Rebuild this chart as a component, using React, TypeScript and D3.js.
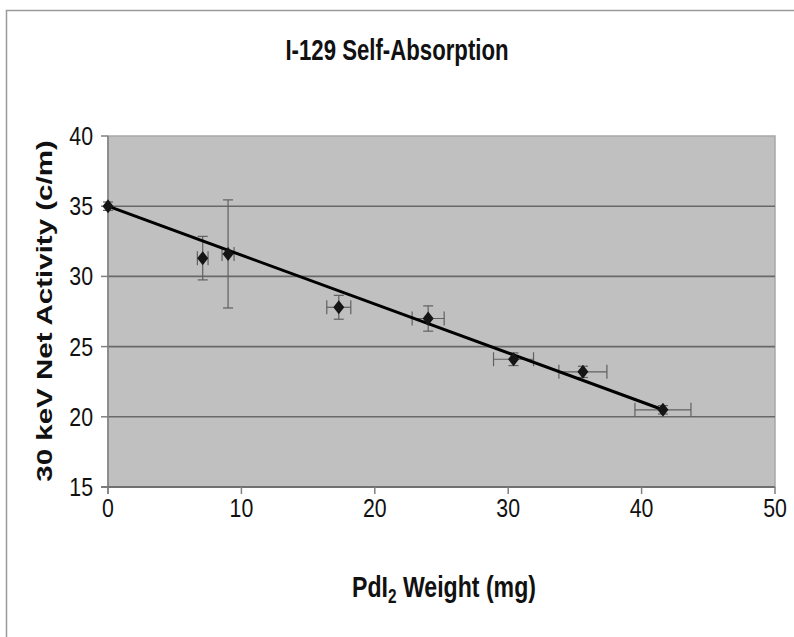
import React from "react";
import * as d3 from "d3";

const title = "I-129 Self-Absorption";
const weights = [0, 7.1, 9.0, 17.3, 24.0, 30.4, 35.6, 41.6];
const activity = [35.0, 31.3, 31.6, 27.8, 27.0, 24.1, 23.2, 20.5];
const activityErr = [0.3, 1.55, 3.85, 0.85, 0.9, 0.45, 0.4, 0.3];
const weightErr = [0, 0.4, 0.45, 0.9, 1.2, 1.5, 1.8, 2.1];
const trendX = [0, 41.6];
const trendY = [35.0, 20.5];
const xTicks = [0, 10, 20, 30, 40, 50];
const yTicks = [15, 20, 25, 30, 35, 40];

const W = 794;
const H = 637;
const left = 108;
const right = 775;
const top = 136;
const bottom = 487;

export default function App() {
  const x = d3.scaleLinear().domain([0, 50]).range([left, right]);
  const y = d3.scaleLinear().domain([15, 40]).range([bottom, top]);
  const font = "'Liberation Sans', Arial, sans-serif";
  const trend = d3.line<number>().x((d) => x(trendX[d])).y((d) => y(trendY[d]))([0, 1]) || "";
  const diamond = (cx: number, cy: number) =>
    `M${cx},${cy - 7}L${cx + 5.5},${cy}L${cx},${cy + 7}L${cx - 5.5},${cy}Z`;
  const errColor = "#606060";

  return (
    <svg width={W} height={H} style={{ position: "absolute", left: 0, top: 0, background: "#fff" }}>
      <rect x={6.5} y={10.5} width={900} height={800} fill="#fff" stroke="#9a9a9a" strokeWidth={1.5} />
      <rect x={left} y={top} width={right - left} height={bottom - top} fill="#c0c0c0" stroke="#a8a8a8" strokeWidth={1.5} />
      {yTicks.filter((t) => t > 15 && t < 40).map((t) => (
        <line key={"g" + t} x1={left} x2={right} y1={y(t)} y2={y(t)} stroke="#686868" strokeWidth={1.6} />
      ))}
      {/* axes */}
      <line x1={left} x2={left} y1={top} y2={bottom + 7} stroke="#808080" strokeWidth={1.5} />
      <line x1={left - 7} x2={right} y1={bottom} y2={bottom} stroke="#707070" strokeWidth={1.8} />
      {yTicks.map((t) => (
        <g key={"yt" + t}>
          <line x1={left - 7} x2={left} y1={y(t)} y2={y(t)} stroke="#808080" strokeWidth={1.5} />
          <text
            transform={`translate(${left - 15},${y(t) + 9}) scale(0.82,1)`}
            textAnchor="end"
            fontFamily={font}
            fontSize={26}
            fill="#111"
          >
            {t}
          </text>
        </g>
      ))}
      {xTicks.map((t) => (
        <g key={"xt" + t}>
          <line x1={x(t)} x2={x(t)} y1={bottom} y2={bottom + 7} stroke="#808080" strokeWidth={1.5} />
          <text
            transform={`translate(${x(t)},${bottom + 30}) scale(0.82,1)`}
            textAnchor="middle"
            fontFamily={font}
            fontSize={26}
            fill="#111"
          >
            {t}
          </text>
        </g>
      ))}
      {/* error bars */}
      {weights.map((w, i) => {
        const cx = x(w);
        const cy = y(activity[i]);
        const yt = y(activity[i] + activityErr[i]);
        const yb = y(activity[i] - activityErr[i]);
        const xl = x(w - weightErr[i]);
        const xr = x(w + weightErr[i]);
        return (
          <g key={"e" + i} stroke={errColor} strokeWidth={1.2} fill="none">
            <line x1={cx} x2={cx} y1={yt} y2={yb} />
            <line x1={cx - 5} x2={cx + 5} y1={yt} y2={yt} />
            <line x1={cx - 5} x2={cx + 5} y1={yb} y2={yb} />
            {weightErr[i] > 0 && (
              <>
                <line x1={xl} x2={xr} y1={cy} y2={cy} />
                <line x1={xl} x2={xl} y1={cy - 7} y2={cy + 7} />
                <line x1={xr} x2={xr} y1={cy - 7} y2={cy + 7} />
              </>
            )}
          </g>
        );
      })}
      <path d={trend} stroke="#000" strokeWidth={3} fill="none" />
      {weights.map((w, i) => (
        <path key={"p" + i} d={diamond(x(w), y(activity[i]))} fill="#151515" />
      ))}
      {/* titles */}
      <text
        transform={`translate(397,60) scale(0.74,1)`}
        textAnchor="middle"
        fontFamily={font}
        fontWeight="bold"
        fontSize={30}
        fill="#111"
      >
        {title}
      </text>
      <text
        transform={`translate(444,597) scale(0.77,1)`}
        textAnchor="middle"
        fontFamily={font}
        fontWeight="bold"
        fontSize={30}
        fill="#111"
      >
        PdI<tspan fontSize={20} dy={6}>2</tspan>
        <tspan dy={-6}> Weight (mg)</tspan>
      </text>
      <text
        transform={`translate(52,311) rotate(-90) scale(1,0.74)`}
        textAnchor="middle"
        fontFamily={font}
        fontWeight="bold"
        fontSize={29.5}
        fill="#111"
      >
        30 keV Net Activity (c/m)
      </text>
    </svg>
  );
}
